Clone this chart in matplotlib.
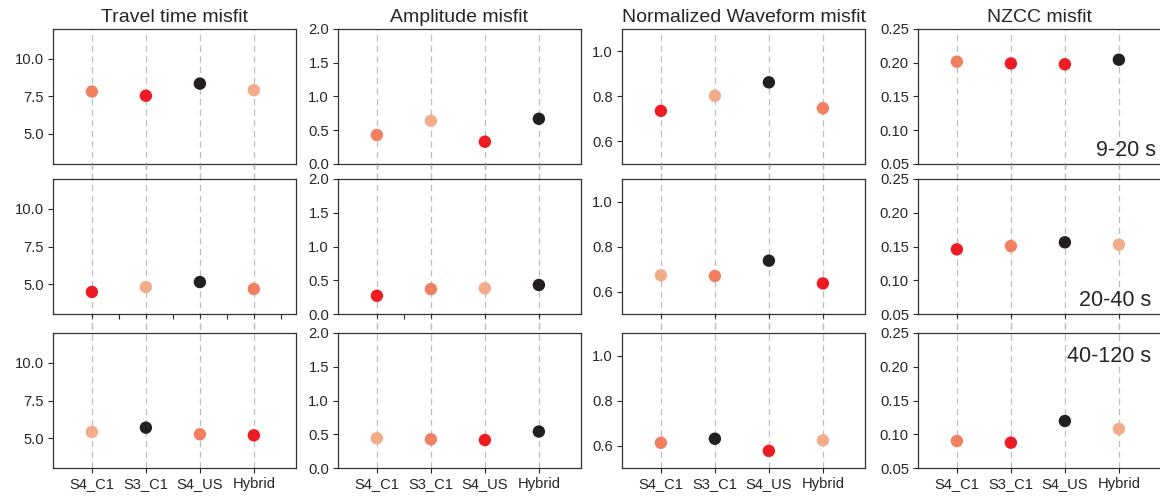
import numpy as np
import matplotlib.pyplot as plt

# models and frequency bands
models = ['S4_C1', 'S3_C1', 'S4_US', 'Hybrid']
bands = ['9-20 s', '20-40 s', '40-120 s']
titles = ['Travel time misfit', 'Amplitude misfit',
          'Normalized Waveform misfit', 'NZCC misfit']

# misfit values, one row per band
travel_time = [[7.83, 7.55, 8.36, 7.92],
               [4.47, 4.80, 5.13, 4.67],
               [5.40, 5.69, 5.25, 5.18]]
amplitude = [[0.43, 0.64, 0.33, 0.67],
             [0.27, 0.37, 0.38, 0.43],
             [0.44, 0.425, 0.415, 0.54]]
waveform = [[0.736, 0.803, 0.863, 0.748],
            [0.672, 0.669, 0.737, 0.636],
            [0.612, 0.630, 0.576, 0.623]]
nzcc = [[0.2016, 0.199, 0.1977, 0.2045],
        [0.1458, 0.1507, 0.1562, 0.1527],
        [0.090, 0.0875, 0.1196, 0.1078]]

# colour code of each dot (r = best ... k = worst)
rank_travel = [['c', 'r', 'k', 'l'], ['r', 'l', 'k', 'c'], ['l', 'k', 'c', 'r']]
rank_amp = [['c', 'l', 'r', 'k'], ['r', 'c', 'l', 'k'], ['l', 'c', 'r', 'k']]
rank_wave = [['r', 'l', 'k', 'c'], ['l', 'c', 'k', 'r'], ['c', 'k', 'r', 'l']]
rank_nzcc = [['c', 'r', 'r', 'k'], ['r', 'c', 'k', 'l'], ['c', 'r', 'k', 'l']]

palette = {'r': '#ED1C24', 'c': '#F08060', 'l': '#F3AC8A', 'k': '#231F20'}

data = [travel_time, amplitude, waveform, nzcc]
ranks = [rank_travel, rank_amp, rank_wave, rank_nzcc]
ylims = [(3, 12), (0, 2), (0.5, 1.1), (0.05, 0.25)]
yticks = [[5.0, 7.5, 10.0], [0, 0.5, 1.0, 1.5, 2.0], [0.6, 0.8, 1.0],
          [0.05, 0.10, 0.15, 0.20, 0.25]]
yfmt = ['%.1f', '%.1f', '%.1f', '%.2f']

plt.rcParams['font.family'] = ['Liberation Sans', 'DejaVu Sans']
txt = '#262626'

fig = plt.figure(figsize=(11.6, 4.96), dpi=100)
W, H = 1160, 496
lefts = [53, 338, 622, 918]
tops = [29, 179, 333]
aw, ah = 243, 135

x = np.arange(len(models))
for r in range(3):
    for c in range(4):
        ax = fig.add_axes([lefts[c] / W, 1 - (tops[r] + ah) / H, aw / W, ah / H])
        lo = -0.11 if r < 2 else 0
        hi = 1.11 if r > 0 else 1
        for xi in x:
            ax.axvline(xi, ymin=lo, ymax=hi, color='#babec7', lw=0.9,
                       dashes=(5, 3.5), clip_on=False, zorder=1)
        cols = [palette[k] for k in ranks[c][r]]
        ax.scatter(x, data[c][r], c=cols, s=80, linewidths=0, zorder=3)
        ax.set_xlim(-0.72, 3.78)
        ax.set_ylim(*ylims[c])
        ax.set_yticks(yticks[c])
        ax.set_yticklabels([yfmt[c] % v for v in yticks[c]])
        ax.set_xticks(x)
        if r == 2:
            ax.set_xticklabels(models)
        else:
            ax.set_xticklabels([])
        if r == 1 and c == 0:
            ax.set_xticks(x + 0.5, minor=True)
        if r == 1 and c == 1:
            ax.set_xticks([0.5], minor=True)
        ax.tick_params(which='both', direction='out', length=3.5, width=0.8,
                       color=txt, labelcolor=txt, labelsize=10.6, pad=3)
        for s in ax.spines.values():
            s.set_color('#333333')
            s.set_linewidth(0.9)
        if r == 0:
            ax.set_title(titles[c], fontsize=14, color=txt, pad=5)
        if c == 3:
            if r == 2:
                ax.text(0.96, 0.785, bands[r], transform=ax.transAxes,
                        ha='right', va='baseline', fontsize=15.5, color=txt)
            else:
                ax.text(0.98 if r == 0 else 0.96, 0.06, bands[r],
                        transform=ax.transAxes, ha='right', va='baseline',
                        fontsize=15.5, color=txt)

plt.savefig('out.png', dpi=100)
